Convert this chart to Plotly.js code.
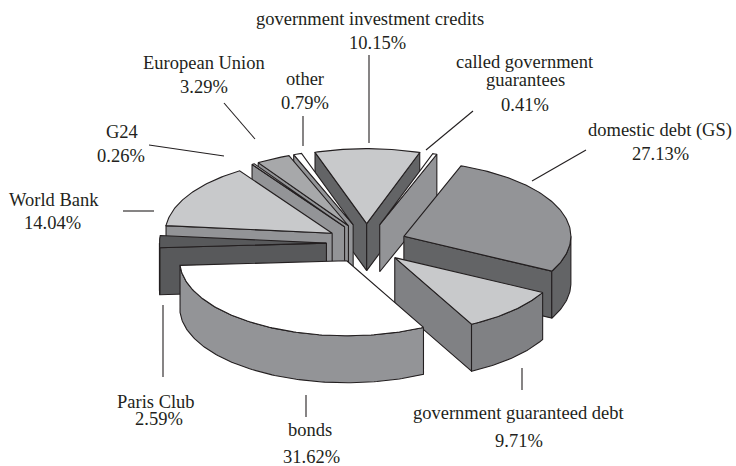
<!DOCTYPE html>
<html><head><meta charset="utf-8">
<script src="https://cdn.plot.ly/plotly-3.0.1.min.js"></script>
<style>html,body{margin:0;padding:0;background:#fff}</style></head>
<body><div id="chart" style="width:736px;height:466px"></div>
<script>
// Data, clockwise from the starting angle
const categories = ["domestic debt (GS)","government guaranteed debt","bonds","Paris Club","World Bank","G24","European Union","other","government investment credits","called government guarantees"];
const shares = [27.13,9.71,31.62,2.59,14.04,0.26,3.29,0.79,10.15,0.41];
const topColors = ["#939497","#c8c9cb","#ffffff","#58595b","#c8c9cb","#c8c9cb","#a7a8aa","#ffffff","#c8c9cb","#ffffff"];
const sideColors = ["#636466","#808184","#939497","#58595b","#939497","#939497","#939497","#939497","#636466","#939497"];
const drawOrder = [8,7,6,5,4,3,9,0,1,2];

// Projection of the exploded pie
const CX=366.5, CY=243.5, RX=167, RY=75, DEPTH=47, EXPLODE_X=0.24, EXPLODE_Y=0.265, START=20;
const total = shares.reduce((a,b)=>a+b,0);
const rad = d=>d*Math.PI/180;
const pt = (ax,ay,deg,dz=0)=>[ax+RX*Math.sin(rad(deg)), ay-RY*Math.cos(rad(deg))+dz];
const arc = (ax,ay,a,b,dz=0)=>{const n=Math.max(2,Math.ceil(Math.abs(b-a)));const r=[];for(let i=0;i<=n;i++)r.push(pt(ax,ay,a+(b-a)*i/n,dz));return r;};

const traces=[];
function poly(points,color){
  const p=points.concat([points[0]]);
  traces.push({type:'scatter',mode:'lines',x:p.map(q=>q[0]),y:p.map(q=>q[1]),fill:'toself',fillcolor:color,
    line:{color:'#231f20',width:1.1},hoverinfo:'skip',showlegend:false});
}
let acc=START;
const slices=shares.map((v,i)=>{const s=acc,e=acc+v/total*360;acc=e;const m=(s+e)/2;
  return {s,e,ax:CX+EXPLODE_X*RX*Math.sin(rad(m)),ay:CY-EXPLODE_Y*RY*Math.cos(rad(m)),i};});

drawOrder.forEach(idx=>{
  const {s,e,ax,ay}=slices[idx], side=sideColors[idx], top=topColors[idx];
  const sinOf=d=>Math.sin(rad(d));
  if(sinOf(s)<0){ const o=pt(ax,ay,s); poly([[ax,ay],o,[o[0],o[1]+DEPTH],[ax,ay+DEPTH]],side); }
  if(sinOf(e)>0){ const o=pt(ax,ay,e); poly([[ax,ay],o,[o[0],o[1]+DEPTH],[ax,ay+DEPTH]],side); }
  const a=Math.max(s,90), b=Math.min(e,270);
  if(b>a){ poly(arc(ax,ay,a,b).concat(arc(ax,ay,b,a,DEPTH)),side); }
  poly([[ax,ay]].concat(arc(ax,ay,s,e)),top);
});

// Leader lines
const leaders=[[369,55,369,143],[426,150,473,111],[532,181,586,150],[522,368,522,390],[306,395,306,417],
  [163,305,163,377],[123,211,154,211],[149,145,224,156],[224,103,255,139],[303,116,303,146]];
const shapes=leaders.map(l=>({type:'line',xref:'x',yref:'y',x0:l[0],y0:l[1],x1:l[2],y1:l[3],line:{color:'#231f20',width:1.1}}));

// Labels
const labelTexts=["government investment credits","10.15%","European Union","3.29%","other","0.79%","called government","guarantees","0.41%","domestic debt (GS)","27.13%","G24","0.26%","World Bank","14.04%","Paris Club","2.59%","bonds","31.62%","government guaranteed debt","9.71%"];
const labelX=[370,377,204,204,305,305,525,525,525,660,660,122,121,54,52,156,159,310,311,518,519];
const labelY=[19,43,63,87,79,103,62,80,105,130,154,132,156,200,223,402,419,430,457,413,441];
const annotations=labelTexts.map((t,i)=>({text:t,x:labelX[i],y:labelY[i],xref:'x',yref:'y',showarrow:false,xanchor:'center',yanchor:'middle',
  font:{family:'"Liberation Serif",serif',size:18.5,color:'#231f20'}}));

Plotly.newPlot('chart',traces,{width:736,height:466,margin:{l:0,r:0,t:0,b:0},paper_bgcolor:'#fff',plot_bgcolor:'#fff',
  xaxis:{range:[0,736],visible:false,fixedrange:true},yaxis:{range:[466,0],visible:false,fixedrange:true},
  shapes,annotations,showlegend:false},{displayModeBar:false,staticPlot:true});
</script></body></html>
